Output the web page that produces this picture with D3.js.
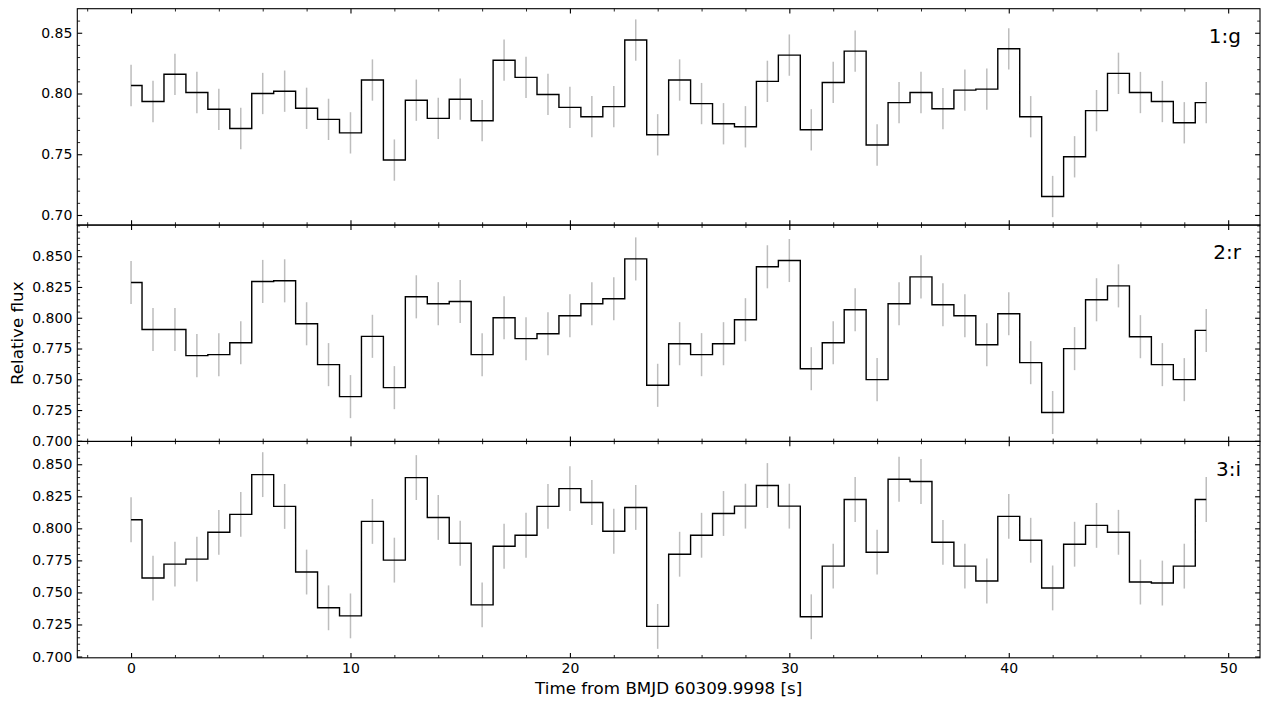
<!DOCTYPE html>
<html><head><meta charset="utf-8">
<script src="https://cdn.jsdelivr.net/npm/d3@7"></script>
<style>body{margin:0;background:#fff}svg{display:block}</style>
</head><body><svg id="c" width="1270" height="709"></svg>
<script>
const times = [0,1,2,3,4,5,6,7,8,9,10,11,12,13,14,15,16,17,18,19,20,21,22,23,24,25,26,27,28,29,30,31,32,33,34,35,36,37,38,39,40,41,42,43,44,45,46,47,48,49];
const fluxG = [0.8066,0.7934,0.8158,0.8008,0.7870,0.7712,0.8000,0.8019,0.7878,0.7787,
  0.7676,0.8111,0.7452,0.7945,0.7795,0.7953,0.7776,0.8274,0.8133,0.7992,
  0.7886,0.7809,0.7892,0.8440,0.7660,0.8111,0.7917,0.7751,0.7726,0.8100,
  0.8316,0.7701,0.8091,0.8349,0.7576,0.7925,0.8008,0.7875,0.8028,0.8036,
  0.8368,0.7809,0.7152,0.7479,0.7859,0.8166,0.8008,0.7934,0.7759,0.7925];
const fluxR = [0.8286,0.7905,0.7905,0.7692,0.7700,0.7797,0.8295,0.8300,0.7951,0.7619,
  0.7359,0.7849,0.7432,0.8170,0.8114,0.8132,0.7700,0.8000,0.7830,0.7870,
  0.8016,0.8114,0.8154,0.8478,0.7451,0.7789,0.7700,0.7789,0.7984,0.8414,
  0.8465,0.7586,0.7797,0.8065,0.7497,0.8114,0.8332,0.8105,0.8016,0.7781,
  0.8032,0.7635,0.7230,0.7749,0.8146,0.8259,0.7846,0.7619,0.7497,0.7897];
const fluxI = [0.8067,0.7612,0.7721,0.7760,0.7969,0.8109,0.8419,0.8171,0.7659,0.7380,
  0.7317,0.8054,0.7752,0.8396,0.8085,0.7884,0.7403,0.7860,0.7946,0.8171,
  0.8310,0.8202,0.7977,0.8163,0.7235,0.7798,0.7946,0.8116,0.8173,0.8334,
  0.8173,0.7310,0.7705,0.8225,0.7814,0.8383,0.8365,0.7891,0.7705,0.7589,
  0.8093,0.7907,0.7535,0.7876,0.8023,0.7969,0.7581,0.7573,0.7705,0.8225];
const errG = 0.017, errR = 0.0175, errI = 0.0175;
const bandLabels = ["1:g", "2:r", "3:i"];
const xTicks = [0, 10, 20, 30, 40, 50];
const xMinorTicks = [-2, 2, 4, 6, 8, 12, 14, 16, 18, 22, 24, 26, 28, 32, 34, 36, 38, 42, 44, 46, 48];
const yTicksG = [0.70, 0.75, 0.80, 0.85];
const yTicksR = [0.700, 0.725, 0.750, 0.775, 0.800, 0.825, 0.850];
const yTicksI = [0.700, 0.725, 0.750, 0.775, 0.800, 0.825, 0.850];
const xLabel = "Time from BMJD 60309.9998 [s]";
const yLabel = "Relative flux";

const svg = d3.select("#c");
const font = "DejaVu Sans, sans-serif";
const L = 77.3, R = 1260, T = 8.7, B = 657.8;
const ph = (B - T) / 3;

const x = d3.scaleLinear().domain([-2.45, 51.45]).range([L, R]);

const panels = [
  {flux: fluxG, err: errG, ticks: yTicksG, minorStep: 0.01, domain: [0.6917, 0.8698], fmt: ".2f", label: bandLabels[0]},
  {flux: fluxR, err: errR, ticks: yTicksR, minorStep: 0.005, domain: [0.6995, 0.8753], fmt: ".3f", label: bandLabels[1]},
  {flux: fluxI, err: errI, ticks: yTicksI, minorStep: 0.005, domain: [0.6990, 0.8678], fmt: ".3f", label: bandLabels[2]}
];

const MAJ = 4.9, MIN = 2.8;

panels.forEach((p, k) => {
  const top = T + k * ph, bot = top + ph;
  const y = d3.scaleLinear().domain(p.domain).range([bot, top]);
  const g = svg.append("g");

  // error bars
  g.selectAll("line.err").data(times).join("line")
    .attr("x1", d => x(d)).attr("x2", d => x(d))
    .attr("y1", (d, i) => y(p.flux[i] - p.err))
    .attr("y2", (d, i) => y(p.flux[i] + p.err))
    .attr("stroke", "#bdbdbd").attr("stroke-width", 1.5);

  // step line
  const line = d3.line().x(d => x(d)).y((d, i) => y(p.flux[i])).curve(d3.curveStep);
  g.append("path").attr("d", line(times))
    .attr("fill", "none").attr("stroke", "#000").attr("stroke-width", 1.4);

  // minor y ticks
  const yMin = [];
  for (let v = Math.ceil(p.domain[0] / p.minorStep - 1e-6) * p.minorStep; v <= p.domain[1] + 1e-9; v += p.minorStep) {
    const vr = Math.round(v * 1000) / 1000;
    if (!p.ticks.some(t => Math.abs(t - vr) < 1e-6)) yMin.push(vr);
  }

  // left axis with labels
  g.append("g").attr("transform", `translate(${L},0)`)
    .call(d3.axisLeft(y).tickValues(p.ticks).tickFormat(d3.format(p.fmt)).tickSize(-MAJ).tickPadding(5))
    .call(a => a.select(".domain").remove())
    .call(a => a.selectAll("line").attr("stroke-width", 1.1))
    .call(a => a.selectAll("text").attr("font-family", font).attr("font-size", 14).attr("fill", "#000"));
  g.append("g").attr("transform", `translate(${L},0)`)
    .call(d3.axisLeft(y).tickValues(yMin).tickFormat("").tickSize(-MIN))
    .call(a => a.select(".domain").remove())
    .call(a => a.selectAll("line").attr("stroke-width", 0.85));
  // right axis
  g.append("g").attr("transform", `translate(${R},0)`)
    .call(d3.axisRight(y).tickValues(p.ticks).tickFormat("").tickSize(-MAJ))
    .call(a => a.select(".domain").remove())
    .call(a => a.selectAll("line").attr("stroke-width", 1.1));
  g.append("g").attr("transform", `translate(${R},0)`)
    .call(d3.axisRight(y).tickValues(yMin).tickFormat("").tickSize(-MIN))
    .call(a => a.select(".domain").remove())
    .call(a => a.selectAll("line").attr("stroke-width", 0.85));

  // top x ticks
  g.append("g").attr("transform", `translate(0,${top})`)
    .call(d3.axisTop(x).tickValues(xTicks).tickFormat("").tickSize(-MAJ))
    .call(a => a.select(".domain").remove())
    .call(a => a.selectAll("line").attr("stroke-width", 1.1));
  g.append("g").attr("transform", `translate(0,${top})`)
    .call(d3.axisTop(x).tickValues(xMinorTicks).tickFormat("").tickSize(-MIN))
    .call(a => a.select(".domain").remove())
    .call(a => a.selectAll("line").attr("stroke-width", 0.85));
  // bottom x ticks
  g.append("g").attr("transform", `translate(0,${bot})`)
    .call(d3.axisBottom(x).tickValues(xTicks).tickFormat(k === 2 ? d3.format("d") : "").tickSize(-MAJ).tickPadding(5))
    .call(a => a.select(".domain").remove())
    .call(a => a.selectAll("line").attr("stroke-width", 1.1))
    .call(a => a.selectAll("text").attr("font-family", font).attr("font-size", 14).attr("fill", "#000"));
  g.append("g").attr("transform", `translate(0,${bot})`)
    .call(d3.axisBottom(x).tickValues(xMinorTicks).tickFormat("").tickSize(-MIN))
    .call(a => a.select(".domain").remove())
    .call(a => a.selectAll("line").attr("stroke-width", 0.85));

  // frame
  g.append("rect").attr("x", L).attr("y", top).attr("width", R - L).attr("height", ph)
    .attr("fill", "none").attr("stroke", "#000").attr("stroke-width", 1.1);

  // band label
  g.append("text").attr("x", 1241).attr("y", top + 34.3)
    .attr("text-anchor", "end").attr("font-family", font).attr("font-size", 20)
    .attr("fill", "#000").text(p.label);
});

svg.append("text").attr("x", (L + R) / 2).attr("y", 694)
  .attr("text-anchor", "middle").attr("font-family", font).attr("font-size", 16.7)
  .attr("fill", "#000").text(xLabel);
svg.append("text").attr("transform", `translate(23,${(T + B) / 2}) rotate(-90)`)
  .attr("text-anchor", "middle").attr("font-family", font).attr("font-size", 16.7)
  .attr("fill", "#000").text(yLabel);
</script></body></html>
